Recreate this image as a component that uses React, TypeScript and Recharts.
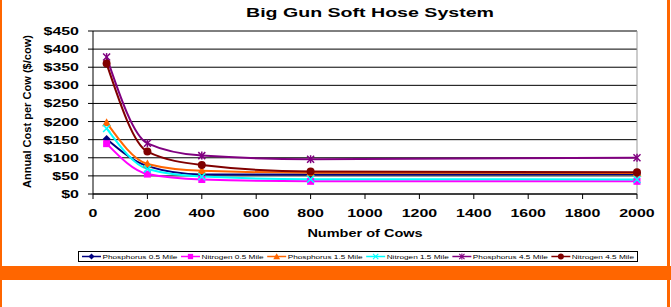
import React from 'react';
import { LineChart, Line, XAxis, YAxis, CartesianGrid, ReferenceLine } from 'recharts';

const cows = [50, 200, 400, 800, 2000];
const phosphorus05 = [152, 77, 54, 54, 55];
const nitrogen05 = [139, 55, 40, 35, 35];
const phosphorus15 = [197, 83, 64, 59, 58];
const nitrogen15 = [181, 69, 48, 41, 40];
const phosphorus45 = [378, 140, 106, 96, 100];
const nitrogen45 = [360, 117, 80, 62, 60];

const xTicks = [0, 200, 400, 600, 800, 1000, 1200, 1400, 1600, 1800, 2000];
const yTicks = [0, 50, 100, 150, 200, 250, 300, 350, 400, 450];

const title = 'Big Gun Soft Hose System';
const xTitle = 'Number of Cows';
const yTitle = 'Annual Cost per Cow ($/cow)';

const series = [
  { key: 'p05', name: 'Phosphorus 0.5 Mile', values: phosphorus05, color: '#000080', shape: 'diamond' },
  { key: 'n05', name: 'Nitrogen 0.5 Mile', values: nitrogen05, color: '#FF00FF', shape: 'square' },
  { key: 'p15', name: 'Phosphorus 1.5 Mile', values: phosphorus15, color: '#FF6600', shape: 'triangle' },
  { key: 'n15', name: 'Nitrogen 1.5 Mile', values: nitrogen15, color: '#00FFFF', shape: 'x' },
  { key: 'p45', name: 'Phosphorus 4.5 Mile', values: phosphorus45, color: '#800080', shape: 'star' },
  { key: 'n45', name: 'Nitrogen 4.5 Mile', values: nitrogen45, color: '#800000', shape: 'circle' },
];

const data = cows.map((c, i) => {
  const row: any = { cows: c };
  series.forEach((s) => { row[s.key] = s.values[i]; });
  return row;
});

const FONT = '"Liberation Sans", Arial, sans-serif';
const SX = 1.45;
let _ctx: CanvasRenderingContext2D | null = null;
function tw(text: string, size: number, bold: boolean) {
  if (!_ctx) _ctx = document.createElement('canvas').getContext('2d');
  if (!_ctx) return text.length * size * 0.55;
  _ctx.font = `${bold ? 'bold ' : ''}${size}px "Liberation Sans"`;
  return _ctx.measureText(text).width;
}

function Marker({ shape, cx, cy, color }: any) {
  if (cx == null || cy == null) return null;
  switch (shape) {
    case 'diamond':
      return <polygon points={`${cx},${cy - 4} ${cx + 4},${cy} ${cx},${cy + 4} ${cx - 4},${cy}`} fill={color} />;
    case 'square':
      return <rect x={cx - 3.5} y={cy - 3.5} width={7} height={7} fill={color} />;
    case 'triangle':
      return <polygon points={`${cx},${cy - 4.5} ${cx + 4.5},${cy + 3.5} ${cx - 4.5},${cy + 3.5}`} fill={color} />;
    case 'x':
      return (
        <g stroke={color} strokeWidth={1.5}>
          <line x1={cx - 3.5} y1={cy - 3.5} x2={cx + 3.5} y2={cy + 3.5} />
          <line x1={cx - 3.5} y1={cy + 3.5} x2={cx + 3.5} y2={cy - 3.5} />
        </g>
      );
    case 'star':
      return (
        <g stroke={color} strokeWidth={1.5}>
          <line x1={cx - 3.5} y1={cy - 3.5} x2={cx + 3.5} y2={cy + 3.5} />
          <line x1={cx - 3.5} y1={cy + 3.5} x2={cx + 3.5} y2={cy - 3.5} />
          <line x1={cx} y1={cy - 4} x2={cx} y2={cy + 4} />
        </g>
      );
    default:
      return <circle cx={cx} cy={cy} r={4} fill={color} />;
  }
}

function XTick({ x, y, payload }: any) {
  const s = String(payload.value);
  return (
    <text x={x} y={y + 16} textAnchor="middle" fontFamily={FONT} fontSize={11} fontWeight="bold" fill="#000"
      textLength={tw(s, 11, true) * SX} lengthAdjust="spacingAndGlyphs">{s}</text>
  );
}

function YTick({ x, y, payload }: any) {
  const s = '$' + payload.value;
  return (
    <text x={x - 7} y={y + 4} textAnchor="end" fontFamily={FONT} fontSize={11} fontWeight="bold" fill="#000"
      textLength={tw(s, 11, true) * SX} lengthAdjust="spacingAndGlyphs">{s}</text>
  );
}

function Legend() {
  const size = 6;
  const lsx = 1.37;
  const left = 78, top = 251, width = 560, height = 11;
  const pad = 4, lineLen = 19, gapTxt = 1.5;
  const widths = series.map((s) => lineLen + gapTxt + tw(s.name, size, false) * lsx);
  const total = widths.reduce((a, b) => a + b, 0);
  const gap = (width - 2 * pad - total) / (series.length - 1);
  let cur = pad;
  const items = series.map((s, i) => {
    const x0 = cur;
    cur += widths[i] + gap;
    const cy = height / 2;
    return (
      <g key={s.key}>
        <line x1={x0} y1={cy} x2={x0 + lineLen} y2={cy} stroke={s.color} strokeWidth={1.5} />
        <g transform="scale(0.75)" style={{ transformOrigin: `${x0 + lineLen / 2}px ${cy}px` }}>
          <Marker shape={s.shape} cx={x0 + lineLen / 2} cy={cy} color={s.color} />
        </g>
        <text x={x0 + lineLen + gapTxt} y={cy + 2.2} fontFamily={FONT} fontSize={size} fill="#000"
          textLength={tw(s.name, size, false) * lsx} lengthAdjust="spacingAndGlyphs">{s.name}</text>
      </g>
    );
  });
  return (
    <svg style={{ position: 'absolute', left, top }} width={width} height={height}>
      <rect x={0.5} y={0.5} width={width - 1} height={height - 1} fill="#fff" stroke="#000" strokeWidth={1} />
      {items}
    </svg>
  );
}

export default function App() {
  return (
    <div style={{ position: 'absolute', left: 0, top: 0, width: 671, height: 307, background: '#fff', overflow: 'hidden' }}>
      <LineChart width={671} height={307} data={data} margin={{ top: 31, right: 34, left: 0, bottom: 83 }}>
        <CartesianGrid horizontal={true} vertical={false} stroke="#000" strokeWidth={1} />
        <XAxis dataKey="cows" type="number" domain={[0, 2000]} ticks={xTicks} height={30}
          axisLine={{ stroke: '#000' }} tickLine={{ stroke: '#000' }} tickSize={5} tick={<XTick />} interval={0} />
        <YAxis type="number" domain={[0, 450]} ticks={yTicks} width={93}
          axisLine={{ stroke: '#000' }} tickLine={{ stroke: '#000' }} tickSize={5} tick={<YTick />} interval={0} />
        <ReferenceLine x={2000} stroke="#999" strokeWidth={1} />
        {series.map((s) => (
          <Line key={s.key} dataKey={s.key} name={s.name} type="monotone" stroke={s.color} strokeWidth={2}
            isAnimationActive={false}
            dot={(p: any) => <Marker key={`${s.key}-${p.index}`} shape={s.shape} cx={p.cx} cy={p.cy} color={s.color} />}
            activeDot={false} />
        ))}
      </LineChart>
      <svg style={{ position: 'absolute', left: 0, top: 0, pointerEvents: 'none' }} width={671} height={307}>
        <text x={370} y={17} textAnchor="middle" fontFamily={FONT} fontSize={13.5} fontWeight="bold" fill="#000"
          textLength={tw(title, 13.5, true) * SX} lengthAdjust="spacingAndGlyphs">{title}</text>
        <text x={365} y={237} textAnchor="middle" fontFamily={FONT} fontSize={10} fontWeight="bold" fill="#000"
          textLength={tw(xTitle, 10, true) * SX} lengthAdjust="spacingAndGlyphs">{xTitle}</text>
        <text x={0} y={0} transform="translate(31,111.5) rotate(-90)" textAnchor="middle" fontFamily={FONT}
          fontSize={11} fontWeight="bold" fill="#000" textLength={153} lengthAdjust="spacingAndGlyphs">{yTitle}</text>
      </svg>
      <Legend />
      <div style={{ position: 'absolute', left: 0, top: 0, width: 2, height: 307, background: '#FF6600' }} />
      <div style={{ position: 'absolute', left: 667, top: 0, width: 3, height: 307, background: '#FF6600' }} />
      <div style={{ position: 'absolute', left: 0, top: 266, width: 671, height: 14, background: '#FF6600' }} />
    </div>
  );
}
